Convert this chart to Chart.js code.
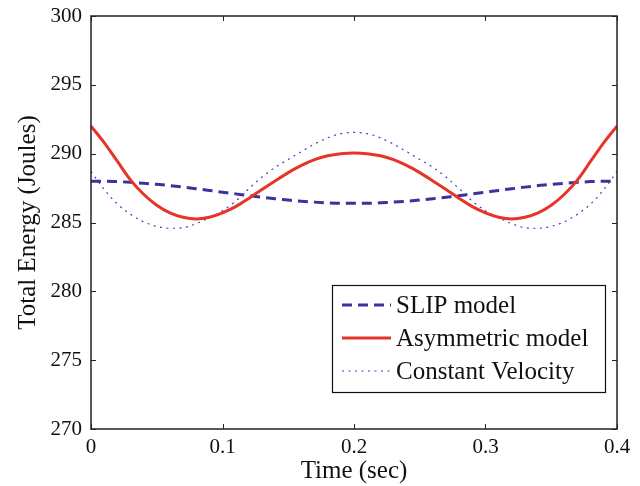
<!doctype html>
<html>
<head>
	<title>Total Energy</title>
	<script src="https://cdn.jsdelivr.net/npm/chart.js@4.4.1"></script>
	<style>
	* { margin: 0; padding: 0; }
	body { background: white; }
	.chartBox { width: 640px; height: 486px; }
	</style>
</head>
<body>
	<div class="chartBox">
		<canvas id="canvas_energy"></canvas>
	</div>
</body>
<script type="text/javascript">
	// time axis (sec)
	var timeSec = [
		0.00, 0.01, 0.02, 0.03, 0.04, 0.05, 0.06, 0.07, 0.08, 0.09,
		0.10, 0.11, 0.12, 0.13, 0.14, 0.15, 0.16, 0.17, 0.18, 0.19,
		0.20, 0.21, 0.22, 0.23, 0.24, 0.25, 0.26, 0.27, 0.28, 0.29,
		0.30, 0.31, 0.32, 0.33, 0.34, 0.35, 0.36, 0.37, 0.38, 0.39, 0.40
	];

	// SLIP model (dashed)
	var slipEnergy = [
		288.00, 288.00, 287.97, 287.92, 287.85, 287.77, 287.68, 287.57, 287.45, 287.33,
		287.20, 287.08, 286.95, 286.84, 286.73, 286.63, 286.55, 286.48, 286.43, 286.40,
		286.40, 286.40, 286.43, 286.48, 286.55, 286.63, 286.73, 286.84, 286.95, 287.08,
		287.20, 287.33, 287.45, 287.57, 287.68, 287.77, 287.85, 287.92, 287.97, 288.00, 288.00
	];

	// Asymmetric model (solid red)
	var asymEnergy = [
		292.00, 290.80, 289.45, 288.10, 287.05, 286.25, 285.70, 285.38, 285.25, 285.38,
		285.70, 286.15, 286.75, 287.40, 288.02, 288.62, 289.15, 289.57, 289.85, 290.00,
		290.05, 290.00, 289.85, 289.57, 289.15, 288.62, 288.02, 287.40, 286.75, 286.15,
		285.70, 285.38, 285.25, 285.38, 285.70, 286.25, 287.05, 288.10, 289.45, 290.80, 292.00
	];

	// Constant Velocity (dotted)
	var constVelEnergy = [
		288.70, 287.40, 286.35, 285.60, 285.05, 284.72, 284.58, 284.62, 284.92, 285.35,
		285.85, 286.55, 287.45, 288.30, 289.00, 289.58, 290.15, 290.70, 291.15, 291.45,
		291.55, 291.45, 291.15, 290.70, 290.15, 289.58, 289.00, 288.30, 287.45, 286.55,
		285.85, 285.35, 284.92, 284.62, 284.58, 284.72, 285.05, 285.60, 286.35, 287.40, 288.70
	];

	var seriesLabels = ['SLIP model', 'Asymmetric model', 'Constant Velocity'];
	var xTicks = [0, 0.1, 0.2, 0.3, 0.4];
	var yTicks = [270, 275, 280, 285, 290, 295, 300];

	var serif = "'Liberation Serif', 'Times New Roman', serif";

	function toPoints(ys) {
		return timeSec.map(function(t, i) { return { x: t, y: ys[i] }; });
	}

	var energy_data = {
		datasets: [
			{
				label: seriesLabels[0],
				data: toPoints(slipEnergy),
				borderColor: 'rgb(58,50,160)',
				borderWidth: 3,
				borderDash: [10, 6],
				pointRadius: 0,
				cubicInterpolationMode: 'monotone',
				order: 1,
			},
			{
				label: seriesLabels[1],
				data: toPoints(asymEnergy),
				borderColor: 'rgb(230,52,40)',
				borderWidth: 3,
				pointRadius: 0,
				cubicInterpolationMode: 'monotone',
				order: 0,
			},
			{
				label: seriesLabels[2],
				data: toPoints(constVelEnergy),
				borderColor: 'rgb(70,62,190)',
				borderWidth: 1.2,
				borderDash: [2, 4.5],
				pointRadius: 0,
				cubicInterpolationMode: 'monotone',
				order: 2,
			}
		]
	};

	// box around the plot, inward ticks on all four sides, and the legend
	var frame_plugin = {
		id: 'frame',
		afterDraw: function(chart) {
			var ctx = chart.ctx;
			var a = chart.chartArea;
			var xs = chart.scales.x, ys = chart.scales.y;
			ctx.save();
			ctx.strokeStyle = '#222';
			ctx.lineWidth = 1.5;
			ctx.setLineDash([]);
			ctx.strokeRect(a.left, a.top, a.right - a.left, a.bottom - a.top);
			ctx.lineWidth = 1;
			var tl = 5;
			xTicks.forEach(function(v) {
				var px = Math.round(xs.getPixelForValue(v)) + 0.5;
				ctx.beginPath();
				ctx.moveTo(px, a.bottom); ctx.lineTo(px, a.bottom - tl);
				ctx.moveTo(px, a.top); ctx.lineTo(px, a.top + tl);
				ctx.stroke();
			});
			yTicks.forEach(function(v) {
				var py = Math.round(ys.getPixelForValue(v)) + 0.5;
				ctx.beginPath();
				ctx.moveTo(a.left, py); ctx.lineTo(a.left + tl, py);
				ctx.moveTo(a.right, py); ctx.lineTo(a.right - tl, py);
				ctx.stroke();
			});

			// legend
			var bx = 332, by = 285, bw = 273, bh = 107;
			ctx.fillStyle = 'white';
			ctx.fillRect(bx, by, bw, bh);
			ctx.strokeStyle = '#111';
			ctx.lineWidth = 1.2;
			ctx.strokeRect(bx + 0.5, by + 0.5, bw, bh);
			var rows = [305, 338, 371];
			ctx.font = '25px ' + serif;
			ctx.textBaseline = 'middle';
			ctx.textAlign = 'left';
			chart.data.datasets.forEach(function(ds, i) {
				ctx.beginPath();
				ctx.strokeStyle = ds.borderColor;
				ctx.lineWidth = ds.borderWidth;
				ctx.setLineDash(ds.borderDash || []);
				ctx.moveTo(342, rows[i]);
				ctx.lineTo(391, rows[i]);
				ctx.stroke();
				ctx.setLineDash([]);
				ctx.fillStyle = '#111';
				ctx.fillText(ds.label, 396, rows[i] + 1);
			});
			ctx.restore();
		}
	};

	const energy_config = {
		type: 'line',
		data: energy_data,
		options: {
			responsive: false,
			animation: false,
			layout: {
				padding: { left: 0, top: 16, right: 23, bottom: 0 }
			},
			scales: {
				x: {
					type: 'linear',
					min: 0,
					max: 0.4,
					afterFit: function(scale) {
						scale.height = 57;
						scale.paddingLeft = 0;
						scale.paddingRight = 0;
					},
					afterBuildTicks: function(scale) {
						scale.ticks = xTicks.map(function(v) { return { value: v }; });
					},
					grid: { display: false, drawTicks: false },
					border: { display: false },
					ticks: {
						padding: 6,
						color: '#111',
						font: { family: serif, size: 21 },
						callback: function(value) { return String(+value.toFixed(1)); }
					},
					title: {
						display: true,
						text: 'Time (sec)',
						color: '#111',
						font: { family: serif, size: 25 },
						padding: { top: 0, bottom: 0 }
					}
				},
				y: {
					min: 270,
					max: 300,
					afterFit: function(scale) {
						scale.width = 91;
						scale.paddingTop = 0;
						scale.paddingBottom = 0;
					},
					afterBuildTicks: function(scale) {
						scale.ticks = yTicks.map(function(v) { return { value: v }; });
					},
					grid: { display: false, drawTicks: false },
					border: { display: false },
					ticks: {
						padding: 9,
						color: '#111',
						font: { family: serif, size: 21 }
					},
					title: {
						display: true,
						text: 'Total Energy (Joules)',
						color: '#111',
						font: { family: serif, size: 25 },
						padding: { top: 13, bottom: 0 }
					}
				}
			},
			plugins: {
				legend: { display: false },
				tooltip: { enabled: false }
			}
		},
		plugins: [frame_plugin]
	};

	var canvas = document.getElementById('canvas_energy');
	canvas.width = 640;
	canvas.height = 486;
	var energy_Chart = new Chart(canvas, energy_config);
</script>
</html>
